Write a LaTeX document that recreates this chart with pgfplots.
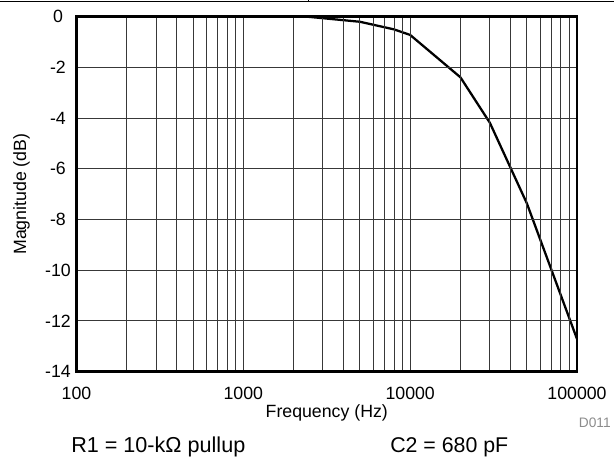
\documentclass[border=0pt]{standalone}
\usepackage{fontspec}
\setmainfont{Liberation Sans}
\usepackage{pgfplots}
\pgfplotsset{compat=1.18}
\begin{document}
\begin{tikzpicture}[x=0.75pt,y=-0.75pt]
\useasboundingbox (0,0) rectangle (614,462);
\draw[line width=0.75pt] (0,1.5) -- (614,1.5);
\draw[line width=0.75pt] (308.5,0) -- (308.5,1.5);
\begin{axis}[
  at={(57.375pt,-278.625pt)}, anchor=south west,
  scale only axis, width=375.4pt, height=266.1pt,
  xmode=log, xmin=100, xmax=100000, ymin=-14, ymax=0,
  xtick={100,1000,10000,100000},
  xticklabels={100,1000,10000,100000},
  ytick={-14,-12,-10,-8,-6,-4,-2,0},
  yticklabels={-14,-12,-10,-8,-6,-4,-2,0},
  xmajorgrids=true, xminorgrids=true, ymajorgrids=true,
  major grid style={black!78, line width=0.75pt},
  minor grid style={black!78, line width=0.75pt},
  major tick length=0pt, minor tick length=0pt,
  axis line style={line width=2pt, black},
  axis on top,
  ticklabel style={font=\fontsize{13.3}{16}\selectfont},
  /pgf/number format/assume math mode=true,
  yticklabel style={anchor=center, xshift=-13.9pt},
  xticklabel style={anchor=base, yshift=-20.8pt},
  label style={font=\fontsize{13.3}{16}\selectfont},
  xlabel={Frequency (Hz)},
  ylabel={Magnitude (dB)},
  xlabel style={at={(axis description cs:0.5,-0.116)}, anchor=center},
  ylabel style={at={(axis description cs:-0.11,0.5)}, anchor=center},
]
\addplot[black, line width=1.7pt, line join=round] coordinates {
  (2420,0) (5000,-0.2) (8000,-0.5) (10000,-0.72) (20000,-2.39)
  (30000,-4.18) (50000,-7.36) (100000,-12.72)
};
\end{axis}
\node[anchor=west, inner sep=0pt, font=\fontsize{16.2}{19}\selectfont] at (71,447) {R1 = 10-kΩ pullup};
\node[anchor=west, inner sep=0pt, font=\fontsize{16}{19}\selectfont] at (390,447) {C2 = 680 pF};
\node[anchor=east, inner sep=0pt, text=black!45, font=\fontsize{10.3}{12}\selectfont] at (611,423) {D011};
\end{tikzpicture}
\end{document}
